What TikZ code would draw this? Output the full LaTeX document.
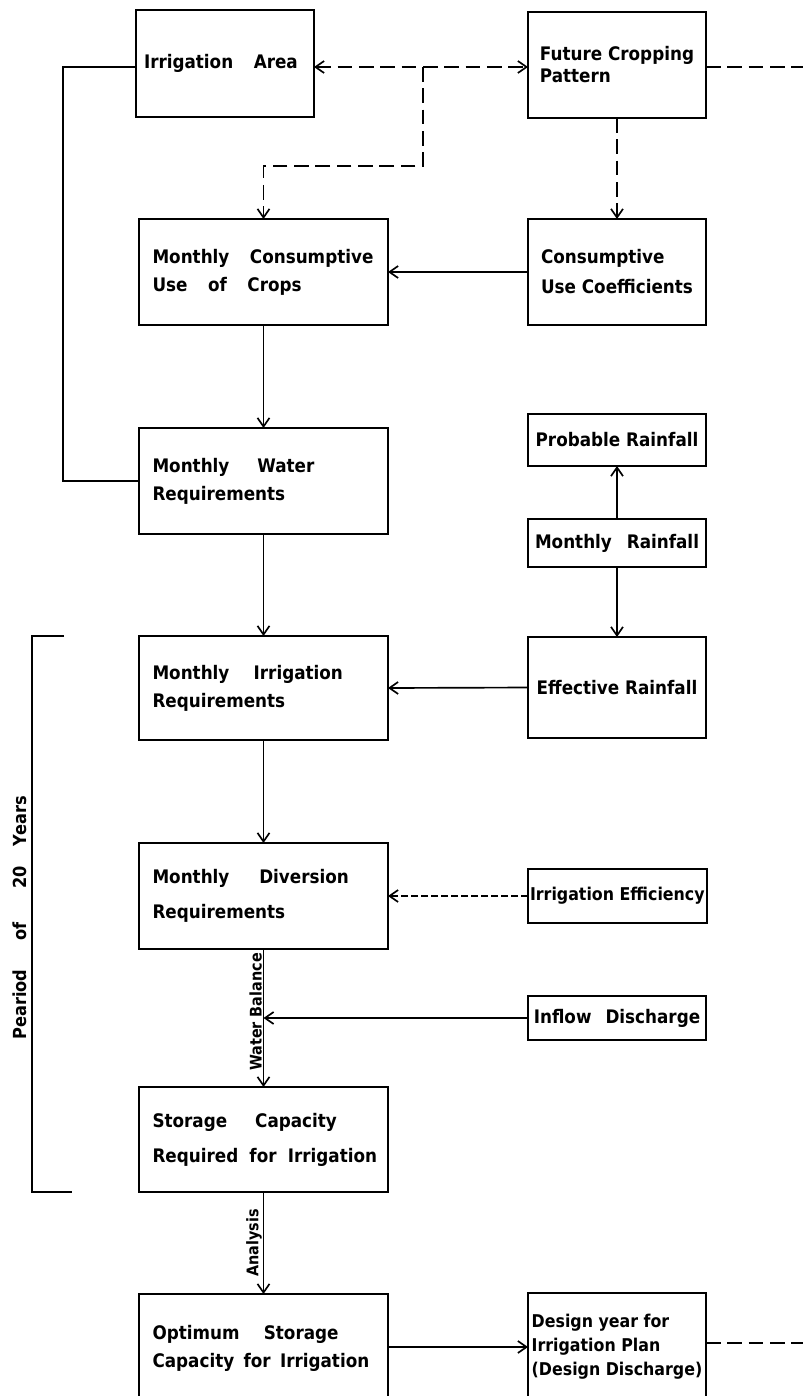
\documentclass[tikz,border=0pt]{standalone}
\usepackage{fontspec}
\newfontfamily\plotfont{DejaVu Sans}[FakeStretch=0.9]
\usetikzlibrary{arrows.meta}
\newcommand\gp[1]{\hspace{#1em}}

\begin{document}
\begin{tikzpicture}[x=0.75pt, y=-0.75pt,
  >={Straight Barb[length=6.5pt,width=9pt]},
  box/.style={draw, line width=1.5pt, outer sep=0pt, inner ysep=0pt, anchor=north west,
    font=\plotfont\bfseries\fontsize{14pt}{21pt}\selectfont},
  lbox/.style={box, text width=166.5pt, inner xsep=10.125pt, align=left, minimum height=79.5pt},
  rbox/.style={box, align=left, minimum width=133.5pt, inner xsep=1.5pt},
  small/.style={font=\plotfont\bfseries\fontsize{13.2pt}{16pt}\selectfont},
  link/.style={line width=1.25pt},
  flow/.style={link, ->},
  longdash/.style={dash pattern=on 11pt off 5pt},
  shortdash/.style={dash pattern=on 5pt off 2.5pt},
  side/.style={font=\plotfont\bfseries\fontsize{12pt}{14pt}\selectfont, rotate=90, anchor=south, inner sep=1pt},
]
\useasboundingbox (0,0) rectangle (803,1396);
\clip (0,0) rectangle (803,1396);

% boxes
\node[box, text width=121.5pt, inner xsep=6pt, align=left, minimum height=80.25pt] (area) at (136,10) {Irrigation\gp{1.1}Area};
\node[rbox, minimum height=79.5pt] (pattern) at (528,12) {Future Cropping\\[-4.5pt]Pattern};
\node[lbox] (use) at (139,219) {Monthly\gp{1.1}Consumptive\\Use\gp{1.1}of\gp{1.1}Crops};
\node[rbox, minimum height=79.5pt] (coef) at (528,219) {Consumptive\\[1.5pt]Use Coefficients};
\node[lbox] (water) at (139,428) {Monthly\gp{1.5}Water\\Requirements};
\node[rbox, minimum height=39pt] (prob) at (528,414) {Probable Rainfall};
\node[rbox, minimum height=36pt] (mrain) at (528,519) {Monthly\gp{0.8}Rainfall};
\node[lbox, minimum height=78pt] (irr) at (139,636) {Monthly\gp{1.3}Irrigation\\Requirements};
\node[rbox, minimum height=75.75pt] (eff) at (528,637) {Effective Rainfall};
\node[lbox] (div) at (139,843) {Monthly\gp{1.6}Diversion\\[5.25pt]Requirements};
\node[rbox, small, minimum height=40.5pt] (effic) at (528,869) {Irrigation Efficiency};
\node[rbox, minimum height=33pt] (inflow) at (528,996) {Inflow\gp{0.75}Discharge};
\node[lbox, minimum height=78.75pt] (store) at (139,1087) {Storage\gp{1.5}Capacity\\[5.25pt]\mbox{Required\gp{0.6}for\gp{0.6}Irrigation}};
\node[lbox, minimum height=81pt] (opt) at (139,1294) {Optimum\gp{1.3}Storage\\\mbox{Capacity\gp{0.5}for\gp{0.5}Irrigation}};
\node[rbox, small, minimum height=81pt] (design) at (528,1293) {Design year for\\[2pt]Irrigation Plan\\[2pt](Design Discharge)};

% connectors
\coordinate (top) at (0,67);
\coordinate (fork) at (423,67);
\coordinate (east1) at (803,67);
\coordinate (loop) at (63,67);
\coordinate (east2) at (803,1343);

\draw[link, longdash, <->] (area.east |- top) -- (pattern.west |- top);
\draw[link, longdash, ->] (fork) |- (use.north |- 0,166) -- (use.north);
\draw[link, longdash] (pattern.east |- top) -- (east1);
\draw[link, longdash, ->] (pattern.south) -- (coef.north);
\draw[flow] (coef.west) -- (use.east);
\draw[flow] (use.south) -- (water.north);
\draw[link] (area.west |- top) -- (loop) |- (water.west);
\draw[flow] (mrain.north) -- (prob.south);
\draw[flow] (mrain.south) -- (eff.north);
\draw[flow] (water.south) -- (irr.north);
\draw[flow] (eff.west) -- (irr.east);
\draw[flow] (irr.south) -- (div.north);
\draw[link, shortdash, ->] (effic.west) -- (div.east);
\draw[flow] (div.south) -- (store.north);
\node[side] (balance) at (div.south |- 0,1012) {Water Balance};
\draw[flow] (inflow.west) -- (inflow.west -| div.south);
\draw[flow] (store.south) -- (opt.north);
\node[side] (analysis) at (store.south |- 0,1243) {Analysis};
\draw[flow] (opt.east |- 0,1347) -- (design.west |- 0,1347);
\draw[link, longdash] (design.east |- east2) -- (east2);

% bracket for the simulation period
\draw[line width=1.5pt] (64,636) -- (32,636) -- (32,1192) -- (72,1192);
\node[rotate=90, font=\plotfont\bfseries\fontsize{13.5pt}{16pt}\selectfont] (period) at (20,918) {Peariod\gp{1.6}of\gp{1.9}20\gp{1.1}Years};
\end{tikzpicture}
\end{document}
